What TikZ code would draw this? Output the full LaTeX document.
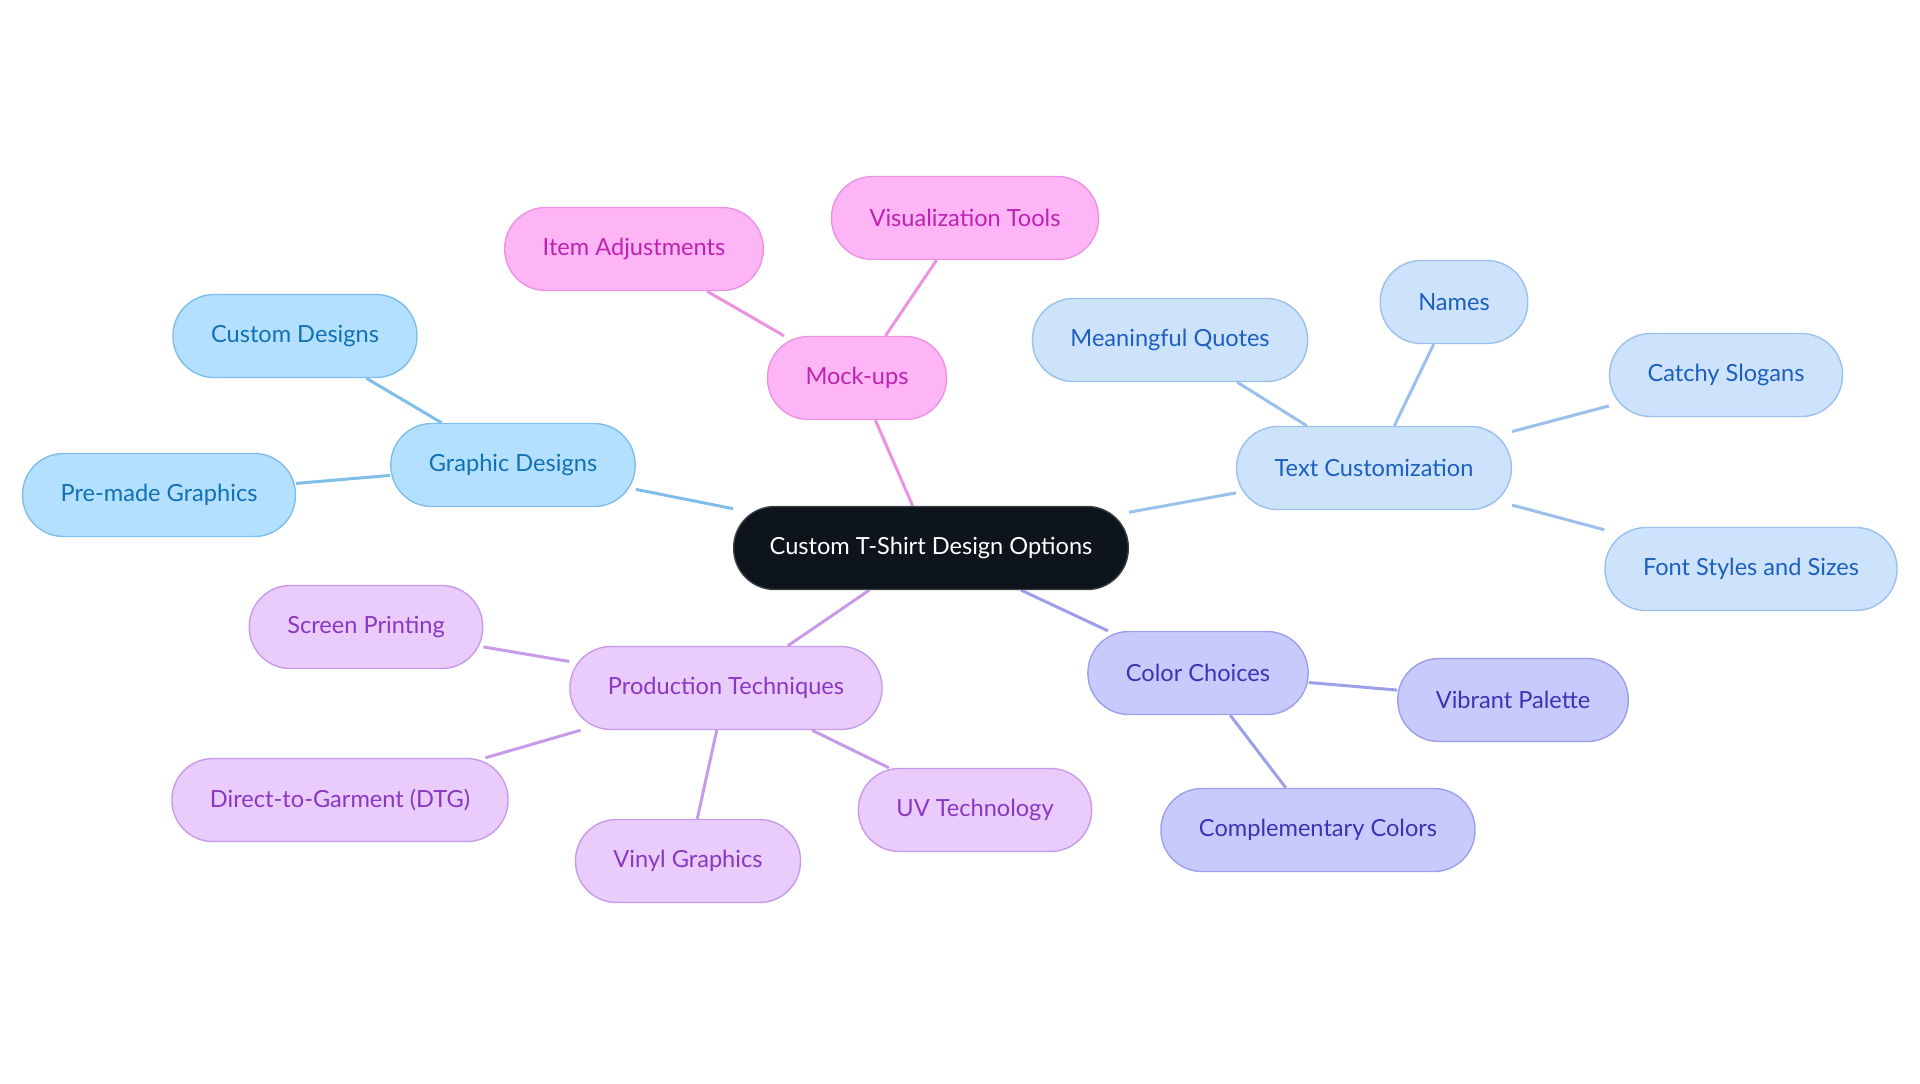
\documentclass[tikz,border=0pt]{standalone}
\usepackage{fontspec}
\setmainfont{Lato}
\usetikzlibrary{backgrounds}
\usepackage{xcolor}
\definecolor{RootFill}{HTML}{0D141C}
\definecolor{RootLine}{HTML}{3A4048}
\definecolor{SkyFill}{HTML}{B3E0FF}
\definecolor{SkyLine}{HTML}{7FBEE8}
\definecolor{SkyText}{HTML}{1270B5}
\definecolor{PinkFill}{HTML}{FDB5F5}
\definecolor{PinkLine}{HTML}{EC92E3}
\definecolor{PinkText}{HTML}{BE22B0}
\definecolor{IceFill}{HTML}{CDE3FC}
\definecolor{IceLine}{HTML}{9CC0EC}
\definecolor{IceText}{HTML}{1C5FBE}
\definecolor{PeriFill}{HTML}{C8CAFD}
\definecolor{PeriLine}{HTML}{9C9FEA}
\definecolor{PeriText}{HTML}{3934B3}
\definecolor{LilacFill}{HTML}{E9CBFC}
\definecolor{LilacLine}{HTML}{C79BEA}
\definecolor{LilacText}{HTML}{8A37C4}

\begin{document}
\begin{tikzpicture}[x=0.5pt, y=-0.5pt,
  topic/.style={draw, rounded corners=20.5pt, minimum height=41.5pt,
                inner xsep=19pt, line width=0.7pt,
                font=\fontsize{11.8}{13}\selectfont},
  root/.style={topic, fill=RootFill, draw=RootLine, text=white, inner xsep=18pt},
  sky/.style={topic, fill=SkyFill, draw=SkyLine, text=SkyText},
  pink/.style={topic, fill=PinkFill, draw=PinkLine, text=PinkText},
  ice/.style={topic, fill=IceFill, draw=IceLine, text=IceText},
  peri/.style={topic, fill=PeriFill, draw=PeriLine, text=PeriText},
  lilac/.style={topic, fill=LilacFill, draw=LilacLine, text=LilacText},
  link/.style={line width=1.5pt}
]
  \useasboundingbox (0,0) rectangle (1920,1083);

  % centre
  \node[root] (tshirt) at (931,548) {Custom T-Shirt Design Options};

  % graphic designs
  \node[sky] (graphic) at (513,465) {Graphic Designs};
  \node[sky] (custom)  at (295,336) {Custom Designs};
  \node[sky] (premade) at (159,495) {Pre-made Graphics};

  % mock-ups
  \node[pink] (mockups) at (857,378) {Mock-ups};
  \node[pink] (adjust)  at (634,249) {Item Adjustments};
  \node[pink] (visual)  at (965,218) {Visualization Tools};

  % text customization
  \node[ice] (textcust) at (1374,468) {Text Customization};
  \node[ice] (quotes)   at (1170,340) {Meaningful Quotes};
  \node[ice] (names)    at (1454,302) {Names};
  \node[ice] (slogans)  at (1726,375) {Catchy Slogans};
  \node[ice] (fonts)    at (1751,569) {Font Styles and Sizes};

  % color choices
  \node[peri] (colors)  at (1198,673) {Color Choices};
  \node[peri] (vibrant) at (1513,700) {Vibrant Palette};
  \node[peri] (complem) at (1318,830) {Complementary Colors};

  % production techniques
  \node[lilac] (prod)   at (726,688) {Production Techniques};
  \node[lilac] (screen) at (366,627) {Screen Printing};
  \node[lilac] (dtg)    at (340,800) {Direct-to-Garment (DTG)};
  \node[lilac] (vinyl)  at (688,861) {Vinyl Graphics};
  \node[lilac] (uv)     at (975,810) {UV Technology};

  \begin{scope}[on background layer]
    \draw[link, SkyLine] (tshirt) -- (graphic);
    \draw[link, SkyLine] (graphic) -- (custom);
    \draw[link, SkyLine] (graphic) -- (premade);
    \draw[link, PinkLine] (tshirt) -- (mockups);
    \draw[link, PinkLine] (mockups) -- (adjust);
    \draw[link, PinkLine] (mockups) -- (visual);
    \draw[link, IceLine] (tshirt) -- (textcust);
    \draw[link, IceLine] (textcust) -- (quotes);
    \draw[link, IceLine] (textcust) -- (names);
    \draw[link, IceLine] (textcust) -- (slogans);
    \draw[link, IceLine] (textcust) -- (fonts);
    \draw[link, PeriLine] (tshirt) -- (colors);
    \draw[link, PeriLine] (colors) -- (vibrant);
    \draw[link, PeriLine] (colors) -- (complem);
    \draw[link, LilacLine] (tshirt) -- (prod);
    \draw[link, LilacLine] (prod) -- (screen);
    \draw[link, LilacLine] (prod) -- (dtg);
    \draw[link, LilacLine] (prod) -- (vinyl);
    \draw[link, LilacLine] (prod) -- (uv);
  \end{scope}
\end{tikzpicture}
\end{document}
